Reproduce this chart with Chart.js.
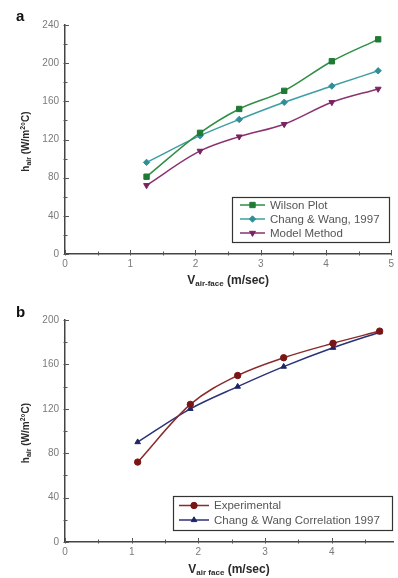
<!DOCTYPE html>
<html><head><meta charset="utf-8">
<script src="https://cdn.jsdelivr.net/npm/chart.js@4.4.1/dist/chart.umd.min.js"></script>
<style>
html,body{margin:0;padding:0;background:#fff;}
#wrap{width:398px;height:578px;position:relative;overflow:hidden;}
.box{position:absolute;left:0;width:398px;height:289px;}
</style></head><body>
<div id="wrap">
<div class="box" style="top:0"><canvas id="ca"></canvas></div>
<div class="box" style="top:289px"><canvas id="cb"></canvas></div>
</div>
<script>
// ---- Panel a data ----
const xA = [1.25, 2.07, 2.67, 3.36, 4.09, 4.80];
const wilsonPlot = [81, 127, 152, 171, 202, 225];
const changWang1997 = [96, 124, 141, 159, 176, 192];
const modelMethod = [72, 108, 123, 136, 159, 173];
const xTicksA = [0, 1, 2, 3, 4, 5];
const yTicksA = [0, 40, 80, 120, 160, 200, 240];
const labelsA = ['Wilson Plot', 'Chang & Wang, 1997', 'Model Method'];

// ---- Panel b data ----
const xB = [1.09, 1.88, 2.59, 3.28, 4.02, 4.72];
const experimental = [72, 124, 150, 166, 179, 190];
const changWangCorr = [90, 120, 140, 158, 175, 189];
const xTicksB = [0, 1, 2, 3, 4];
const yTicksB = [0, 40, 80, 120, 160, 200];
const labelsB = ['Experimental', 'Chang & Wang Correlation 1997'];

const FONT = "'Liberation Sans', Arial, sans-serif";

function pts(xs, ys) { return xs.map((x, i) => ({x: x, y: ys[i]})); }

function ds(label, xs, ys, line, fill, style, radius, rot) {
  return {
    label: label, data: pts(xs, ys),
    borderColor: line, borderWidth: 1.5,
    backgroundColor: fill, pointBackgroundColor: fill, pointBorderColor: fill,
    pointStyle: style, pointRadius: radius, pointRotation: rot || 0, pointBorderWidth: 1,
    tension: 0.35, cubicInterpolationMode: 'monotone', fill: false
  };
}

function drawParts(ctx, parts, x, y, rotate) {
  ctx.save();
  ctx.translate(x, y);
  if (rotate) ctx.rotate(-Math.PI / 2);
  let total = 0;
  parts.forEach(p => { ctx.font = 'bold ' + p.s + 'px ' + FONT; total += ctx.measureText(p.t).width; });
  let cx = -total / 2;
  ctx.textBaseline = 'middle';
  ctx.textAlign = 'left';
  ctx.fillStyle = '#2a2a2a';
  parts.forEach(p => {
    ctx.font = 'bold ' + p.s + 'px ' + FONT;
    ctx.fillText(p.t, cx, p.dy || 0);
    cx += ctx.measureText(p.t).width;
  });
  ctx.restore();
}

const decor = {
  id: 'decor',
  afterDraw(chart, args, o) {
    const ctx = chart.ctx, ca = chart.chartArea, xs = chart.scales.x, ys = chart.scales.y;
    ctx.save();
    ctx.strokeStyle = '#555'; ctx.lineWidth = 1;
    const xt = o.xTicks, yt = o.yTicks;
    const xstep = xt[1] - xt[0], ystep = yt[1] - yt[0];
    for (let i = 0; i < xt.length; i++) {
      const vals = [[xt[i], 4], [xt[i] + xstep / 2, 2.5]];
      vals.forEach(([v, len]) => {
        if (v > xs.max + 1e-9) return;
        const px = Math.round(xs.getPixelForValue(v)) + 0.5;
        ctx.beginPath(); ctx.moveTo(px, ca.bottom + 1.5); ctx.lineTo(px, ca.bottom - len); ctx.stroke();
      });
    }
    for (let i = 0; i < yt.length; i++) {
      const vals = [[yt[i], 4], [yt[i] + ystep / 2, 2.5]];
      vals.forEach(([v, len]) => {
        if (v > ys.max + 1e-9) return;
        const py = Math.round(ys.getPixelForValue(v)) + 0.5;
        ctx.beginPath(); ctx.moveTo(ca.left - 1.5, py); ctx.lineTo(ca.left + len, py); ctx.stroke();
      });
    }
    ctx.fillStyle = '#111';
    ctx.font = 'bold 15px ' + FONT;
    ctx.textBaseline = 'middle'; ctx.textAlign = 'left';
    ctx.fillText(o.panel, o.panelX, o.panelY);
    drawParts(ctx, [{t: 'h', s: 10}, {t: 'air', s: 7, dy: 3}, {t: ' (W/m', s: 10}, {t: '2', s: 7, dy: -3}, {t: '°C)', s: 10}],
      o.yTitleX, (ca.top + ca.bottom) / 2 + 2, true);
    drawParts(ctx, [{t: 'V', s: 12}, {t: o.sub, s: 8, dy: 3}, {t: ' (m/sec)', s: 12}],
      (ca.left + ca.right) / 2, o.xTitleY, false);
    const L = o.legend;
    ctx.fillStyle = '#fff';
    ctx.fillRect(L.x, L.y, L.w, L.h);
    ctx.strokeStyle = '#333'; ctx.lineWidth = 1.2;
    ctx.strokeRect(Math.round(L.x) + 0.5, Math.round(L.y) + 0.5, L.w, L.h);
    chart.data.datasets.forEach((d, i) => {
      const ry = L.y + L.first + i * L.gap;
      ctx.strokeStyle = d.borderColor; ctx.lineWidth = 1.5;
      ctx.beginPath(); ctx.moveTo(L.x + L.l0, ry); ctx.lineTo(L.x + L.l1, ry); ctx.stroke();
      ctx.fillStyle = d.pointBackgroundColor; ctx.strokeStyle = d.pointBorderColor; ctx.lineWidth = 1;
      Chart.helpers.drawPoint(ctx, {pointStyle: d.pointStyle, radius: d.pointRadius, rotation: d.pointRotation, borderWidth: 1},
        L.x + (L.l0 + L.l1) / 2, ry);
      ctx.fillStyle = '#555';
      ctx.font = '11.5px ' + FONT;
      ctx.textBaseline = 'middle'; ctx.textAlign = 'left';
      ctx.fillText(d.label, L.x + L.tx, ry + 0.5);
    });
    ctx.restore();
  }
};

function scales(xmin, xmax, xticks, ymax, yticks, xH) {
  const tickFont = {size: 10, family: FONT};
  return {
    x: {
      type: 'linear', min: xmin, max: xmax,
      afterBuildTicks: s => { s.ticks = xticks.map(v => ({value: v})); },
      ticks: {color: '#7a7a7a', font: tickFont, padding: 4, maxRotation: 0, autoSkip: false},
      grid: {display: false, drawTicks: false},
      border: {display: true, color: '#444', width: 1.5},
      afterFit: s => { s.height = xH; }
    },
    y: {
      type: 'linear', min: 0, max: ymax,
      afterBuildTicks: s => { s.ticks = yticks.map(v => ({value: v})); },
      ticks: {color: '#7a7a7a', font: tickFont, padding: 6, autoSkip: false},
      grid: {display: false, drawTicks: false},
      border: {display: true, color: '#444', width: 1.5},
      afterFit: s => { s.width = 65; }
    }
  };
}

new Chart(document.getElementById('ca'), {
  type: 'line',
  data: {datasets: [
    ds(labelsA[0], xA, wilsonPlot, '#2f8f45', '#1f7a35', 'rect', 3.8),
    ds(labelsA[1], xA, changWang1997, '#3c9ea3', '#2f8f98', 'rectRot', 3.2),
    ds(labelsA[2], xA, modelMethod, '#8a3270', '#7a2262', 'triangle', 3.4, 180)
  ]},
  options: {
    responsive: true, maintainAspectRatio: false, animation: false,
    layout: {padding: {left: 0, right: 2, top: 25, bottom: 0}},
    plugins: {
      legend: {display: false}, tooltip: {enabled: false},
      decor: {xTicks: xTicksA, yTicks: yTicksA, panel: 'a', panelX: 16, panelY: 17, sub: 'air-face',
        yTitleX: 26, xTitleY: 281,
        legend: {x: 232, y: 197, w: 157, h: 45, first: 8, gap: 14, l0: 8, l1: 33, tx: 38}}
    },
    scales: scales(0, 5, xTicksA, 240, yTicksA, 35)
  },
  plugins: [decor]
});

new Chart(document.getElementById('cb'), {
  type: 'line',
  data: {datasets: [
    ds(labelsB[0], xB, experimental, '#8a2a2a', '#7a1515', 'circle', 3.2),
    ds(labelsB[1], xB, changWangCorr, '#2a3278', '#1c2466', 'triangle', 3.2)
  ]},
  options: {
    responsive: true, maintainAspectRatio: false, animation: false,
    layout: {padding: {left: 0, right: 0, top: 31, bottom: 0}},
    plugins: {
      legend: {display: false}, tooltip: {enabled: false},
      decor: {xTicks: xTicksB, yTicks: yTicksB, panel: 'b', panelX: 16, panelY: 24, sub: 'air face',
        yTitleX: 26, xTitleY: 281,
        legend: {x: 173, y: 207, w: 219, h: 34, first: 9.5, gap: 14.5, l0: 6, l1: 36, tx: 41}}
    },
    scales: scales(0, 4.92, xTicksB, 200, yTicksB, 36)
  },
  plugins: [decor]
});
</script>
</body></html>
